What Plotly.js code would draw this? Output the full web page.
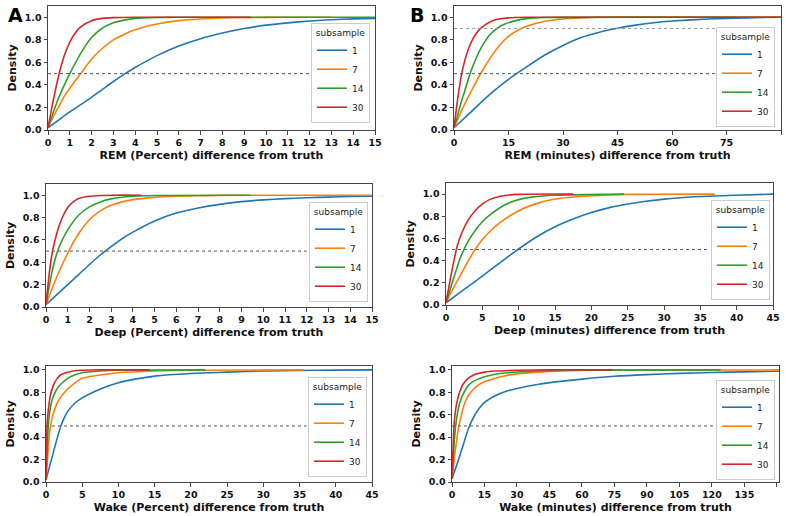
<!DOCTYPE html>
<html>
<head>
<meta charset="utf-8">
<script src="https://cdn.plot.ly/plotly-3.0.1.min.js"></script>
<style>html,body{margin:0;padding:0;background:#fff;}#chart{width:786px;height:516px;}</style>
</head>
<body>
<div id="chart"></div>
<script>
// ---------- DATA ----------
const subsamples = ['1', '7', '14', '30'];

// A: REM (Percent)
const remPct_x1  = [0,0.5,1,1.5,2,2.5,3,3.5,4,5,6,7,8,9,10,11,12,13,14,15];
const remPct_y1  = [0.02,0.09,0.16,0.225,0.29,0.36,0.43,0.495,0.555,0.66,0.745,0.81,0.86,0.90,0.93,0.95,0.967,0.978,0.986,0.99];
const remPct_x7  = [0,0.25,0.5,0.75,1,1.5,2,2.5,3,3.5,4,5,6,7,8,9,10,12,13];
const remPct_y7  = [0.02,0.12,0.21,0.3,0.37,0.5,0.63,0.725,0.8,0.85,0.89,0.94,0.97,0.985,0.993,0.997,0.999,1,1];
const remPct_x14 = [0,0.25,0.5,0.75,1,1.5,2,2.5,3,3.5,4,5,6,15];
const remPct_y14 = [0.02,0.16,0.29,0.4,0.5,0.68,0.82,0.905,0.952,0.975,0.99,0.998,1,1];
const remPct_x30 = [0,0.25,0.5,0.75,1,1.25,1.5,2,2.5,3,4,5,9.3];
const remPct_y30 = [0.02,0.27,0.49,0.66,0.78,0.86,0.915,0.97,0.99,0.997,1,1,1];

// B: REM (minutes)
const remMin_x1  = [0,5,10,15,20,25,30,35,40,45,50,55,60,70,80,90];
const remMin_y1  = [0.02,0.17,0.32,0.45,0.56,0.665,0.75,0.82,0.868,0.903,0.93,0.952,0.967,0.985,0.995,1];
const remMin_x7  = [0,2.5,5,7.5,10,12.5,15,17.5,20,25,30,35,40,90];
const remMin_y7  = [0.02,0.2,0.36,0.51,0.64,0.75,0.83,0.885,0.92,0.965,0.985,0.995,1,1];
const remMin_x14 = [0,1,2,3,4,5,6,7,8,10,12,14,17,20,25,90];
const remMin_y14 = [0.02,0.13,0.25,0.35,0.46,0.55,0.63,0.7,0.76,0.85,0.905,0.94,0.97,0.988,0.998,1];
const remMin_x30 = [0,1,2,3,4,5,6,7,8,10,12,15,20,90];
const remMin_y30 = [0.02,0.27,0.48,0.62,0.72,0.795,0.85,0.89,0.92,0.96,0.982,0.995,1,1];

// C: Deep (Percent)
const deepPct_x1  = [0,0.5,1,1.5,2,2.5,3,3.5,4,5,6,7,8,9,10,11,12,13,14,15];
const deepPct_y1  = [0.02,0.11,0.2,0.29,0.38,0.465,0.54,0.61,0.67,0.77,0.84,0.885,0.918,0.942,0.958,0.969,0.977,0.983,0.988,0.99];
const deepPct_x7  = [0,0.25,0.5,0.75,1,1.25,1.5,2,2.5,3,3.5,4,5,6,7,8,15];
const deepPct_y7  = [0.02,0.15,0.27,0.38,0.48,0.575,0.655,0.78,0.86,0.91,0.94,0.96,0.98,0.99,0.995,1,1];
const deepPct_x14 = [0,0.25,0.5,0.75,1,1.5,2,2.5,3,4,5,9.4];
const deepPct_y14 = [0.02,0.29,0.48,0.6,0.69,0.82,0.895,0.94,0.967,0.99,0.997,1];
const deepPct_x30 = [0,0.15,0.3,0.5,0.75,1,1.25,1.5,2,2.5,3,4.4];
const deepPct_y30 = [0.02,0.3,0.5,0.66,0.8,0.89,0.94,0.97,0.99,0.997,1,1];

// D: Deep (minutes)
const deepMin_x1  = [0,2.5,5,7.5,10,12.5,15,17.5,20,22.5,25,27.5,30,35,40,45];
const deepMin_y1  = [0.02,0.14,0.26,0.385,0.505,0.615,0.705,0.775,0.833,0.878,0.91,0.935,0.955,0.978,0.99,1];
const deepMin_x7  = [0,1,2,3,4,5,6,7,8,10,12,15,20,25,37];
const deepMin_y7  = [0.02,0.15,0.27,0.39,0.5,0.59,0.66,0.72,0.77,0.85,0.905,0.955,0.985,0.997,1];
const deepMin_x14 = [0,1,2,3,4,5,6,8,10,12,15,24.5];
const deepMin_y14 = [0.02,0.23,0.43,0.57,0.67,0.75,0.81,0.9,0.95,0.975,0.99,1];
const deepMin_x30 = [0,0.5,1,1.5,2,3,4,5,6,7.5,10,17.5];
const deepMin_y30 = [0.02,0.2,0.37,0.52,0.62,0.76,0.85,0.91,0.95,0.98,0.997,1];

// E: Wake (Percent)
const wakePct_x1  = [0,0.5,1,1.5,2,2.5,3,4,5,6,7.5,10,12.5,15,20,25,30,35,40,45];
const wakePct_y1  = [0.02,0.14,0.26,0.38,0.49,0.57,0.63,0.705,0.75,0.785,0.83,0.885,0.92,0.945,0.968,0.98,0.99,0.995,0.998,1];
const wakePct_x7  = [0,0.25,0.5,0.75,1,1.5,2,3,4,5,6,7.5,10,15,20,35.5];
const wakePct_y7  = [0.02,0.25,0.44,0.54,0.61,0.7,0.755,0.83,0.885,0.925,0.94,0.955,0.975,0.99,0.997,1];
const wakePct_x14 = [0,0.1,0.2,0.32,0.5,0.75,1,1.5,2,3,4,5,7.5,10,22];
const wakePct_y14 = [0.02,0.2,0.35,0.5,0.62,0.71,0.76,0.83,0.87,0.925,0.957,0.975,0.99,0.997,1];
const wakePct_x30 = [0,0.07,0.14,0.3,0.6,1,1.5,2,3,4,5,7.5,14.3];
const wakePct_y30 = [0.02,0.3,0.5,0.63,0.77,0.86,0.92,0.955,0.98,0.993,0.997,1,1];

// F: Wake (minutes)
const wakeMin_x1  = [0,2.5,5,7.5,10,12.5,15,20,25,30,40,50,60,75,90,105,120,135,151];
const wakeMin_y1  = [0.03,0.17,0.32,0.47,0.58,0.655,0.71,0.77,0.81,0.835,0.872,0.898,0.918,0.943,0.958,0.969,0.977,0.983,0.988];
const wakeMin_x7  = [0,1,2,3,4,5,6,7.5,10,12.5,15,20,25,30,40,50,60,75,151];
const wakeMin_y7  = [0.03,0.2,0.35,0.48,0.57,0.65,0.71,0.77,0.83,0.87,0.895,0.925,0.95,0.965,0.98,0.99,0.995,0.998,1];
const wakeMin_x14 = [0,0.5,1,1.7,2.5,3.5,5,7.5,10,15,20,30,45,60,124];
const wakeMin_y14 = [0.03,0.2,0.35,0.5,0.61,0.7,0.78,0.86,0.9,0.94,0.962,0.982,0.994,0.998,1];
const wakeMin_x30 = [0,0.5,0.9,1.5,2.5,3.5,5,7.5,10,15,20,30,45,74];
const wakeMin_y30 = [0.03,0.3,0.5,0.62,0.73,0.8,0.87,0.925,0.955,0.98,0.99,0.997,1,1];

const xTitles = [
  'REM (Percent) difference from truth',
  'REM (minutes) difference from truth',
  'Deep (Percent) difference from truth',
  'Deep (minutes) difference from truth',
  'Wake (Percent) difference from truth',
  'Wake (minutes) difference from truth'
];

// ---------- STYLE / LAYOUT ----------
const colors = ['#1f77b4', '#ff7f0e', '#2ca02c', '#d62728'];
const FONT = 'DejaVu Sans';
const W = 786, H = 516;

const panels = [
  {xs:[remPct_x1,remPct_x7,remPct_x14,remPct_x30], ys:[remPct_y1,remPct_y7,remPct_y14,remPct_y30],
   px:[48,375], py:[6,130], xr:[0,15], yr:[0,1.1], dtick:1, leg:[370,123], hl:[0.5]},
  {xs:[remMin_x1,remMin_x7,remMin_x14,remMin_x30], ys:[remMin_y1,remMin_y7,remMin_y14,remMin_y30],
   px:[454,781], py:[6,130], xr:[0,90], yr:[0,1.1], dtick:15, leg:[775,127], hl:[0.5,0.9]},
  {xs:[deepPct_x1,deepPct_x7,deepPct_x14,deepPct_x30], ys:[deepPct_y1,deepPct_y7,deepPct_y14,deepPct_y30],
   px:[46,372], py:[184,307], xr:[0,15], yr:[0,1.1], dtick:1, leg:[368,302], hl:[0.5]},
  {xs:[deepMin_x1,deepMin_x7,deepMin_x14,deepMin_x30], ys:[deepMin_y1,deepMin_y7,deepMin_y14,deepMin_y30],
   px:[446,773], py:[183,305], xr:[0,45], yr:[0,1.1], dtick:5, leg:[770,300], hl:[0.5]},
  {xs:[wakePct_x1,wakePct_x7,wakePct_x14,wakePct_x30], ys:[wakePct_y1,wakePct_y7,wakePct_y14,wakePct_y30],
   px:[46,372], py:[366,482], xr:[0,45], yr:[0,1.035], dtick:5, leg:[367,477], hl:[0.5]},
  {xs:[wakeMin_x1,wakeMin_x7,wakeMin_x14,wakeMin_x30], ys:[wakeMin_y1,wakeMin_y7,wakeMin_y14,wakeMin_y30],
   px:[452,779], py:[366,482], xr:[0,151], yr:[0,1.035], dtick:15, leg:[775,480], hl:[0.5]}
];

const traces = [];
const layout = {
  width: W, height: H,
  margin: {l:0, r:0, t:0, b:0},
  paper_bgcolor: '#fff', plot_bgcolor: '#fff',
  font: {family: FONT, size: 9, color: '#222'},
  shapes: [],
  annotations: [
    {text:'<b>A</b>', x:6/W, y:1-2/H, xref:'paper', yref:'paper', xanchor:'left', yanchor:'top', showarrow:false, font:{size:19, family:FONT, color:'#000'}},
    {text:'<b>B</b>', x:408/W, y:1-2/H, xref:'paper', yref:'paper', xanchor:'left', yanchor:'top', showarrow:false, font:{size:19, family:FONT, color:'#000'}}
  ]
};

panels.forEach((p, i) => {
  const n = i + 1;
  const xa = n === 1 ? 'x' : 'x' + n;
  const ya = n === 1 ? 'y' : 'y' + n;
  const legName = n === 1 ? 'legend' : 'legend' + n;
  for (let k = 0; k < 4; k++) {
    traces.push({
      type: 'scatter', mode: 'lines',
      x: p.xs[k], y: p.ys[k],
      xaxis: xa, yaxis: ya,
      name: subsamples[k],
      legend: legName,
      line: {color: colors[k], width: 1.6, shape: 'spline', smoothing: 0.6},
      hoverinfo: 'skip'
    });
  }
  const axCommon = {
    showline: true, linecolor: '#444', linewidth: 1, mirror: true,
    ticks: 'outside', ticklen: 3.5, tickcolor: '#444', tickwidth: 1,
    showgrid: false, zeroline: false,
    tickfont: {family: FONT, size: 9.5, weight: 'bold', color: '#111'}
  };
  layout['xaxis' + (n === 1 ? '' : n)] = Object.assign({}, axCommon, {
    domain: [p.px[0]/W, p.px[1]/W],
    anchor: ya, range: p.xr, tick0: 0, dtick: p.dtick,
    title: {text: xTitles[i], font: {family: FONT, size: 11, weight: 'bold', color: '#111'}, standoff: 4}
  });
  layout['yaxis' + (n === 1 ? '' : n)] = Object.assign({}, axCommon, {
    domain: [1 - p.py[1]/H, 1 - p.py[0]/H],
    anchor: xa, range: p.yr, tick0: 0, dtick: 0.2, tickformat: '.1f',
    title: {text: 'Density', font: {family: FONT, size: 11, weight: 'bold', color: '#111'}, standoff: 5}
  });
  p.hl.forEach(v => {
    layout.shapes.push({
      type: 'line', xref: xa + ' domain', yref: ya,
      x0: 0, x1: 0.8, y0: v, y1: v,
      line: {color: v === 0.5 ? '#555' : '#999', width: 1, dash: 'dot'}
    });
  });
  layout[legName] = {
    x: p.leg[0]/W, y: 1 - p.leg[1]/H, xanchor: 'right', yanchor: 'bottom',
    xref: 'paper', yref: 'paper',
    bgcolor: 'rgba(255,255,255,0.85)', bordercolor: '#ccc', borderwidth: 1,
    font: {family: FONT, size: 9, color: '#222'},
    title: {text: 'subsample', side: 'top center', font: {family: FONT, size: 9, color: '#222'}},
    itemwidth: 30
  };
});

Plotly.newPlot('chart', traces, layout, {displayModeBar: false, staticPlot: true});
</script>
</body>
</html>
